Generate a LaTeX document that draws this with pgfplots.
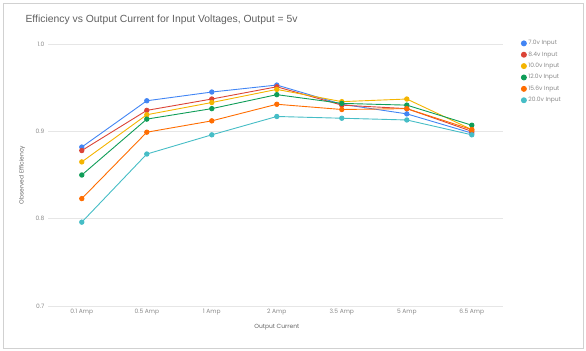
\documentclass[border=0pt]{standalone}
\usepackage{fontspec}
\setmainfont{Liberation Sans}
\newfontfamily\lblfont{Poppins}
\usepackage{pgfplots}
\pgfplotsset{compat=1.18}
\definecolor{cBlue}{HTML}{4285F4}
\definecolor{cRed}{HTML}{DB4437}
\definecolor{cYellow}{HTML}{F4B400}
\definecolor{cGreen}{HTML}{0F9D58}
\definecolor{cOrange}{HTML}{FF6D01}
\definecolor{cTeal}{HTML}{46BDC6}
\definecolor{cGrid}{HTML}{E6E6E6}
\definecolor{cTick}{HTML}{8A8A8A}
\definecolor{cTitle}{HTML}{5F5F5F}
\begin{document}
\begin{tikzpicture}
\path (0,0) rectangle (586bp,351bp);
\draw[line width=0.8bp, black!18] (3bp,3bp) rectangle (583bp,348bp);
\begin{axis}[
  at={(48bp,45bp)}, anchor=south west,
  scale only axis, width=455bp, height=262bp,
  xmin=-0.52, xmax=6.48, ymin=0.7, ymax=1.0,
  xtick={0,1,2,3,4,5,6},
  xticklabels={0.1 Amp,0.5 Amp,1 Amp,2 Amp,3.5 Amp,5 Amp,6.5 Amp},
  ytick={0.7,0.8,0.9,1.0},
  yticklabel style={/pgf/number format/.cd,fixed,fixed zerofill,precision=1},
  /pgf/number format/assume math mode=true,
  ticklabel style={font=\lblfont\fontsize{6}{7}\selectfont, text=cTick},
  major tick length=0pt,
  axis line style={draw=none},
  ymajorgrids, grid style={cGrid, line width=0.8bp},
  xlabel={Output Current}, ylabel={Observed Efficiency},
  label style={font=\lblfont\fontsize{6}{7}\selectfont, text=black!60},
  xlabel style={at={(axis description cs:0.503,-0.08)}, anchor=center},
  ylabel style={at={(axis description cs:-0.057,0.5)}, anchor=center},
  title={Efficiency vs Output Current for Input Voltages, Output = 5v},
  title style={at={(axis description cs:-0.057,1.069)}, anchor=west, font=\fontsize{10.4}{12}\selectfont, text=cTitle},
  every axis plot/.append style={line width=0.9bp, mark=*, mark size=2.2bp, mark options={solid}},
  legend style={at={(axis description cs:1.04,1.022)}, anchor=north west, draw=none, fill=none,
    font=\lblfont\fontsize{6}{6.5}\selectfont, text=cTick, row sep=1.5bp, inner sep=0pt},
  legend cell align=left,
  legend image code/.code={\draw[#1, mark=*, mark size=2.5bp] plot coordinates {(0.1cm,0cm)};},
]
\addplot[cBlue] coordinates {(0,0.882)(1,0.935)(2,0.945)(3,0.953)(4,0.931)(5,0.920)(6,0.898)};
\addplot[cRed] coordinates {(0,0.878)(1,0.924)(2,0.937)(3,0.951)(4,0.930)(5,0.926)(6,0.900)};
\addplot[cYellow] coordinates {(0,0.865)(1,0.919)(2,0.933)(3,0.948)(4,0.934)(5,0.937)(6,0.902)};
\addplot[cGreen] coordinates {(0,0.850)(1,0.914)(2,0.926)(3,0.942)(4,0.932)(5,0.930)(6,0.907)};
\addplot[cOrange] coordinates {(0,0.823)(1,0.899)(2,0.912)(3,0.931)(4,0.925)(5,0.926)(6,0.902)};
\addplot[cTeal] coordinates {(0,0.796)(1,0.874)(2,0.896)(3,0.917)(4,0.915)(5,0.913)(6,0.896)};
\legend{7.0v Input,8.4v Input,10.0v Input,12.0v Input,15.6v Input,20.0v Input}
\end{axis}
\end{tikzpicture}
\end{document}
